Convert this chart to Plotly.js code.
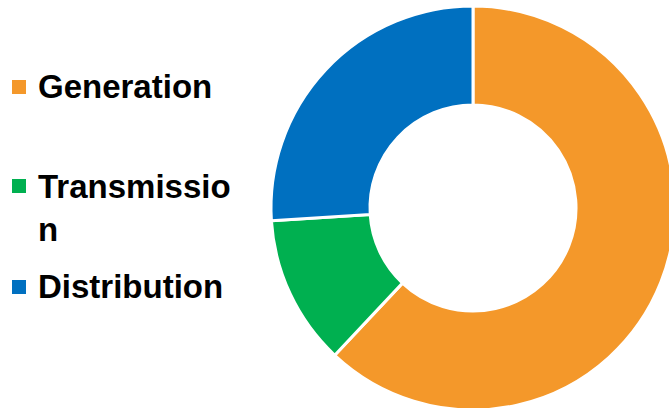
<!DOCTYPE html>
<html>
<head>
<meta charset="utf-8">
<script src="https://cdn.plot.ly/plotly-3.0.1.min.js"></script>
<style>
html, body { margin: 0; padding: 0; overflow: hidden; background: #fff; }
#chart { width: 677px; height: 410px; }
</style>
</head>
<body>
<div id="chart"></div>
<script>
const categories = ["Generation", "Transmission", "Distribution"];
const legendLabels = ["Generation", "Transmissio<br>n", "Distribution"];
const values = [62, 12, 26];
const colors = ["#F4982A", "#00B050", "#0070C0"];

const W = 677, H = 410;
const px = x => x / W;
const py = y => 1 - y / H;

const legendTextY = [87, 208, 286];
const legendBoxY = [87, 186, 287];

const annotations = legendLabels.map((t, i) => ({
  text: t, xref: "paper", yref: "paper",
  x: px(36), y: py(legendTextY[i]), xanchor: "left", yanchor: "middle",
  align: "left", showarrow: false,
  font: { family: "Liberation Sans, Arial, sans-serif", size: 33, color: "#000", weight: "bold" }
}));
const shapes = colors.map((c, i) => ({
  type: "rect", xref: "paper", yref: "paper",
  x0: px(12), x1: px(26), y0: py(legendBoxY[i] + 7), y1: py(legendBoxY[i] - 7),
  fillcolor: c, line: { width: 0 }
}));

Plotly.newPlot("chart", [{
  type: "pie",
  labels: categories,
  values: values,
  hole: 0.51,
  sort: false,
  direction: "clockwise",
  rotation: 0,
  marker: { colors: colors, line: { color: "#ffffff", width: 3 } },
  textinfo: "none",
  hoverinfo: "label+value",
  domain: { x: [269 / W, 1], y: [0, (H - 6) / H] }
}], {
  width: W, height: H,
  margin: { l: 0, r: 0, t: 0, b: 0 },
  showlegend: false,
  paper_bgcolor: "#fff",
  annotations: annotations,
  shapes: shapes
}, { displayModeBar: false, staticPlot: true });
</script>
</body>
</html>
